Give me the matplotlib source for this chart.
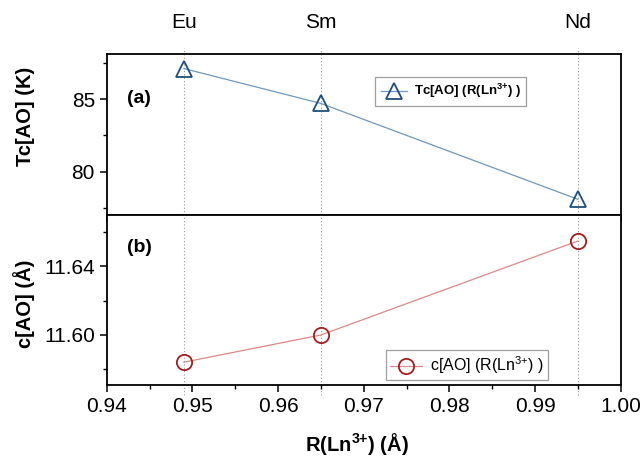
import matplotlib
matplotlib.use('Agg')
import matplotlib.pyplot as plt
from matplotlib.ticker import MultipleLocator

plt.rcParams['font.family'] = ['Liberation Sans', 'DejaVu Sans']
plt.rcParams['mathtext.fontset'] = 'custom'
plt.rcParams['mathtext.rm'] = 'Liberation Sans'
plt.rcParams['mathtext.bf'] = 'Liberation Sans:bold'

# ionic radius of Ln3+ (Å)
radius = [0.949, 0.965, 0.995]
elements = ['Eu', 'Sm', 'Nd']
tc = [87.1, 84.7, 78.1]              # Tc[AO] (K)
c_param = [11.5842, 11.600, 11.6545]  # c[AO] (Å)

blue_line = '#6f98bf'
blue_mark = '#1f4f7a'
red_line = '#d98a8a'
red_mark = '#a31e1e'

fig = plt.figure(figsize=(6.44, 4.58), dpi=100)
ax1 = fig.add_axes([0.1657, 0.5306, 0.7981, 0.3508])
ax2 = fig.add_axes([0.1657, 0.1594, 0.7981, 0.3712], sharex=ax1)

ax1.plot(radius, tc, '-', color=blue_line, lw=0.9, marker='^', ms=12,
         mfc='none', mec=blue_mark, mew=1.3,
         label=r'Tc[AO] (R(Ln$\mathbf{^{3{+}}}$) )')
ax2.plot(radius, c_param, '-', color=red_line, lw=0.9, marker='o', ms=11,
         mfc='none', mec=red_mark, mew=1.3,
         label=r'c[AO] (R(Ln$\mathrm{^{3{+}}}$) )')

# dotted guide lines at each element
for r in radius:
    ax1.axvline(r, ymin=0, ymax=1.04, color='#999999', ls=(0, (1, 2)),
                lw=0.8, zorder=0, clip_on=False)
    ax2.axvline(r, ymin=-0.06, ymax=1, color='#999999', ls=(0, (1, 2)),
                lw=0.8, zorder=0, clip_on=False)

for ax in (ax1, ax2):
    for s in ax.spines.values():
        s.set_linewidth(1.3)
    ax.tick_params(axis='both', which='major', direction='out', length=5,
                   width=1.1, labelsize=15, right=False, top=False)
    ax.tick_params(axis='both', which='minor', direction='out', length=3,
                   width=1.0, right=False, top=False)

ax1.set_xlim(0.94, 1.00)
ax1.xaxis.set_major_locator(MultipleLocator(0.01))
ax1.xaxis.set_minor_locator(MultipleLocator(0.005))
ax1.tick_params(axis='x', labelbottom=False)

ax1.set_ylim(77.02, 88.08)
ax1.yaxis.set_major_locator(MultipleLocator(5))
ax1.yaxis.set_minor_locator(MultipleLocator(2.5))
ax1.set_ylabel('Tc[AO] (K)', fontsize=14.5, fontweight='bold')
ax1.yaxis.set_label_coords(-0.14, 0.616)
ax1.text(0.04, 0.7, '(a)', transform=ax1.transAxes, fontsize=14,
         fontweight='bold')

ax2.set_ylim(11.571, 11.6696)
ax2.yaxis.set_major_locator(MultipleLocator(0.04))
ax2.yaxis.set_minor_locator(MultipleLocator(0.02))
ax2.yaxis.set_major_formatter(plt.FormatStrFormatter('%.2f'))
ax2.set_ylabel('c[AO] (Å)', fontsize=14.5, fontweight='bold')
ax2.yaxis.set_label_coords(-0.14, 0.48)
ax2.set_xlabel(r'R(Ln$\mathbf{^{3{+}}}$) (Å)', fontsize=14.5,
               fontweight='bold')
ax2.xaxis.set_label_coords(0.487, -0.27)
ax2.xaxis.set_major_formatter(plt.FormatStrFormatter('%.2f'))
ax2.text(0.04, 0.78, '(b)', transform=ax2.transAxes, fontsize=14,
         fontweight='bold')

# element labels on top
top = ax1.twiny()
top.set_xlim(ax1.get_xlim())
top.set_xticks(radius)
top.set_xticklabels(elements)
top.tick_params(axis='x', length=0, labelsize=15, pad=16)
for s in top.spines.values():
    s.set_visible(False)

leg1 = ax1.legend(loc='upper left', bbox_to_anchor=(0.51, 0.9),
                  prop={'weight': 'bold', 'size': 9.5}, fancybox=False,
                  edgecolor='#888888', handlelength=2.0, borderpad=0.4,
                  handletextpad=0.5)
leg1.get_frame().set_linewidth(0.9)
leg2 = ax2.legend(loc='upper left', bbox_to_anchor=(0.528, 0.25),
                  prop={'size': 11.5}, fancybox=False,
                  edgecolor='#888888', handlelength=2.0, borderpad=0.25,
                  handletextpad=0.5)
leg2.get_frame().set_linewidth(0.9)

fig.savefig('out.png', dpi=100)
